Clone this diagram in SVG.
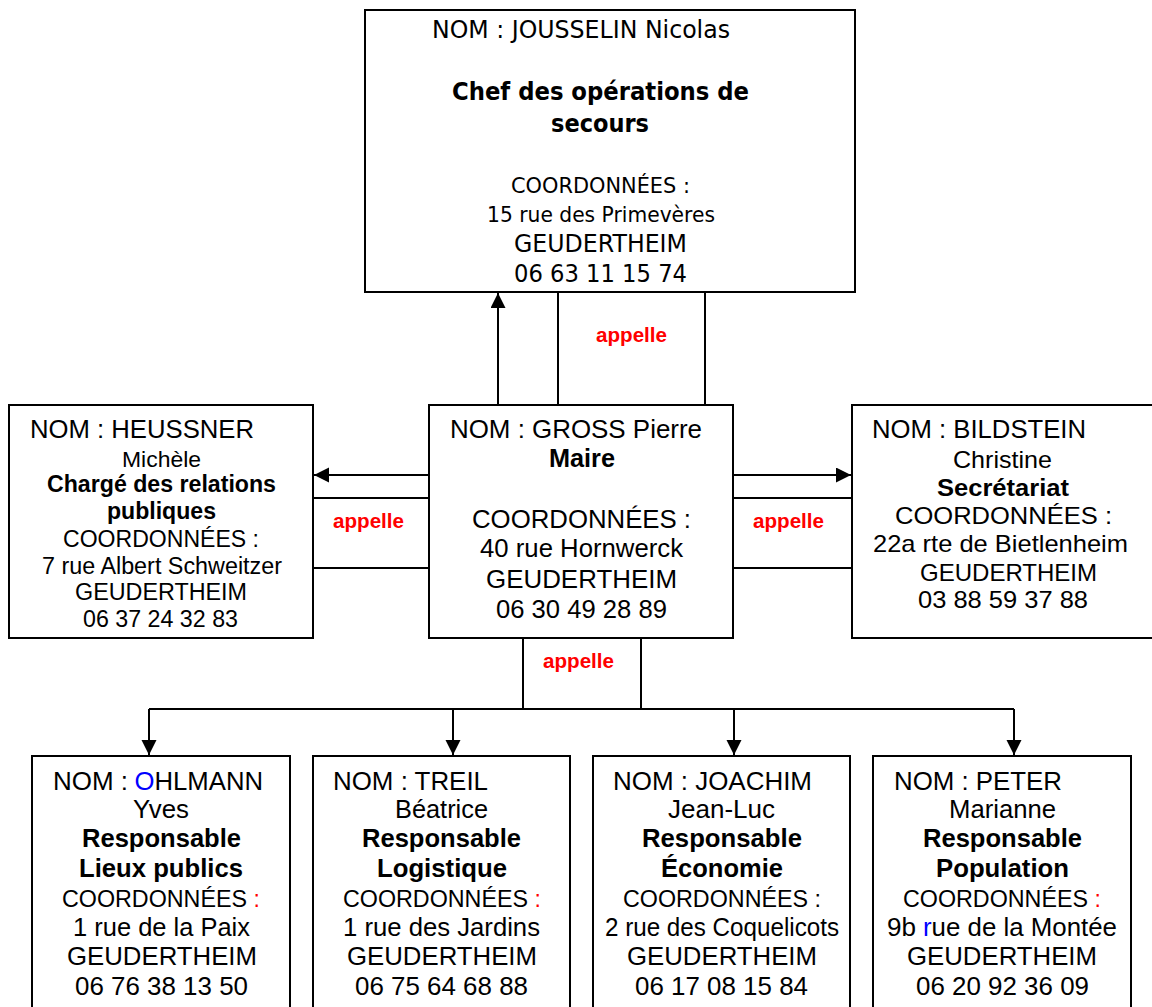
<svg xmlns="http://www.w3.org/2000/svg" width="1152" height="1007" viewBox="0 0 1152 1007">
<style>
.box{fill:#fff;stroke:#000;stroke-width:2}
.ln{fill:none;stroke:#000;stroke-width:2}
.t{font-family:"Liberation Sans",Arial,sans-serif;font-size:26px;fill:#000}
.tb{font-family:"Liberation Sans",Arial,sans-serif;font-size:26px;font-weight:bold;fill:#000}
.tt{font-family:"DejaVu Sans",Tahoma,sans-serif;font-size:24px;fill:#000}
.ttb{font-family:"DejaVu Sans",Tahoma,sans-serif;font-size:24px;font-weight:bold;fill:#000}
.lbl{font-family:"Liberation Sans",Arial,sans-serif;font-size:20px;font-weight:bold;fill:#ff0000}
.red{fill:#ff0000}
.blue{fill:#0000ff}
</style>
<defs>
<marker id="arr" markerUnits="userSpaceOnUse" markerWidth="16" markerHeight="16" refX="15" refY="7.5" orient="auto">
<path d="M0,0 L15,7.5 L0,15 z" fill="#000"/>
</marker>
</defs>

<g id="connectors">
<line class="ln" x1="498" y1="405" x2="498" y2="293" marker-end="url(#arr)"/>
<line class="ln" x1="558" y1="292" x2="558" y2="405"/>
<line class="ln" x1="705" y1="292" x2="705" y2="405"/>
<text class="lbl" x="596" y="342" textLength="71" lengthAdjust="spacingAndGlyphs">appelle</text>

<line class="ln" x1="429" y1="475" x2="314" y2="475" marker-end="url(#arr)"/>
<line class="ln" x1="313" y1="498" x2="429" y2="498"/>
<line class="ln" x1="313" y1="568" x2="429" y2="568"/>
<text class="lbl" x="333" y="528" textLength="71" lengthAdjust="spacingAndGlyphs">appelle</text>

<line class="ln" x1="733" y1="475" x2="851" y2="475" marker-end="url(#arr)"/>
<line class="ln" x1="733" y1="498" x2="852" y2="498"/>
<line class="ln" x1="733" y1="568" x2="852" y2="568"/>
<text class="lbl" x="753" y="528" textLength="71" lengthAdjust="spacingAndGlyphs">appelle</text>

<line class="ln" x1="523" y1="638" x2="523" y2="709"/>
<line class="ln" x1="641" y1="638" x2="641" y2="709"/>
<text class="lbl" x="543" y="668" textLength="71" lengthAdjust="spacingAndGlyphs">appelle</text>
<line class="ln" x1="149" y1="709" x2="1014" y2="709"/>
<line class="ln" x1="149" y1="709" x2="149" y2="755" marker-end="url(#arr)"/>
<line class="ln" x1="453" y1="709" x2="453" y2="755" marker-end="url(#arr)"/>
<line class="ln" x1="734" y1="709" x2="734" y2="755" marker-end="url(#arr)"/>
<line class="ln" x1="1014" y1="709" x2="1014" y2="755" marker-end="url(#arr)"/>
</g>

<g id="node-jousselin">
<rect class="box" x="365" y="10" width="490" height="282"/>
<text class="tt" x="432" y="38" textLength="298" lengthAdjust="spacingAndGlyphs">NOM : JOUSSELIN Nicolas</text>
<text class="ttb" x="452" y="100" textLength="297" lengthAdjust="spacingAndGlyphs">Chef des opérations de</text>
<text class="ttb" x="551" y="132" textLength="98" lengthAdjust="spacingAndGlyphs">secours</text>
<text class="tt" x="511" y="193" style="font-size:21px" textLength="179" lengthAdjust="spacingAndGlyphs">COORDONNÉES :</text>
<text class="tt" x="487" y="222" style="font-size:21px" textLength="228" lengthAdjust="spacingAndGlyphs">15 rue des Primevères</text>
<text class="tt" x="514" y="252" style="font-size:24px" textLength="173" lengthAdjust="spacingAndGlyphs">GEUDERTHEIM</text>
<text class="tt" x="514" y="282" style="font-size:24px" textLength="173" lengthAdjust="spacingAndGlyphs">06 63 11 15 74</text>
</g>

<g id="node-gross">
<rect class="box" x="429" y="405" width="304" height="233"/>
<text class="t" x="450" y="438" textLength="252" lengthAdjust="spacingAndGlyphs">NOM : GROSS Pierre</text>
<text class="tb" x="549" y="467" textLength="66" lengthAdjust="spacingAndGlyphs">Maire</text>
<text class="t" x="472" y="528" textLength="219" lengthAdjust="spacingAndGlyphs">COORDONNÉES :</text>
<text class="t" x="480" y="557" textLength="203" lengthAdjust="spacingAndGlyphs">40 rue Hornwerck</text>
<text class="t" x="486" y="588" textLength="191" lengthAdjust="spacingAndGlyphs">GEUDERTHEIM</text>
<text class="t" x="496" y="618" textLength="171" lengthAdjust="spacingAndGlyphs">06 30 49 28 89</text>
</g>

<g id="node-heussner">
<rect class="box" x="9" y="405" width="304" height="233"/>
<text class="t" x="30" y="438" textLength="224" lengthAdjust="spacingAndGlyphs">NOM : HEUSSNER</text>
<text class="t" x="122" y="467" style="font-size:22px" textLength="79" lengthAdjust="spacingAndGlyphs">Michèle</text>
<text class="tb" x="47" y="492" style="font-size:23px" textLength="229" lengthAdjust="spacingAndGlyphs">Chargé des relations</text>
<text class="tb" x="107" y="519" style="font-size:23px" textLength="109" lengthAdjust="spacingAndGlyphs">publiques</text>
<text class="t" x="63" y="547" style="font-size:23px" textLength="196" lengthAdjust="spacingAndGlyphs">COORDONNÉES :</text>
<text class="t" x="42" y="574" style="font-size:23px" textLength="240" lengthAdjust="spacingAndGlyphs">7 rue Albert Schweitzer</text>
<text class="t" x="75" y="600" style="font-size:23px" textLength="172" lengthAdjust="spacingAndGlyphs">GEUDERTHEIM</text>
<text class="t" x="83" y="627" style="font-size:23px" textLength="155" lengthAdjust="spacingAndGlyphs">06 37 24 32 83</text>
</g>

<g id="node-bildstein">
<rect class="box" x="852" y="405" width="310" height="233"/>
<text class="t" x="872" y="438" textLength="214" lengthAdjust="spacingAndGlyphs">NOM : BILDSTEIN</text>
<text class="t" x="953" y="468" style="font-size:24px" textLength="99" lengthAdjust="spacingAndGlyphs">Christine</text>
<text class="tb" x="937" y="496" style="font-size:24px" textLength="132" lengthAdjust="spacingAndGlyphs">Secrétariat</text>
<text class="t" x="895" y="524" style="font-size:24px" textLength="217" lengthAdjust="spacingAndGlyphs">COORDONNÉES :</text>
<text class="t" x="873" y="552" style="font-size:24px" textLength="255" lengthAdjust="spacingAndGlyphs">22a rte de Bietlenheim</text>
<text class="t" x="920" y="581" style="font-size:24px" textLength="177" lengthAdjust="spacingAndGlyphs">GEUDERTHEIM</text>
<text class="t" x="918" y="608" style="font-size:24px" textLength="170" lengthAdjust="spacingAndGlyphs">03 88 59 37 88</text>
</g>

<g id="node-ohlmann">
<rect class="box" x="32" y="756" width="258" height="270"/>
<text class="t" x="53" y="790" textLength="75" lengthAdjust="spacingAndGlyphs">NOM :</text>
<text class="t blue" x="134.5" y="790" textLength="20" lengthAdjust="spacingAndGlyphs">O</text>
<text class="t" x="154.5" y="790" textLength="108.5" lengthAdjust="spacingAndGlyphs">HLMANN</text>
<text class="t" x="133" y="818" textLength="56" lengthAdjust="spacingAndGlyphs">Yves</text>
<text class="tb" x="82" y="847" textLength="159" lengthAdjust="spacingAndGlyphs">Responsable</text>
<text class="tb" x="79" y="877" textLength="164" lengthAdjust="spacingAndGlyphs">Lieux publics</text>
<text class="t" x="62" y="907" style="font-size:23px" textLength="185" lengthAdjust="spacingAndGlyphs">COORDONNÉES</text>
<text class="t red" x="253.5" y="907" style="font-size:23px">:</text>
<text class="t" x="73" y="936" textLength="177" lengthAdjust="spacingAndGlyphs">1 rue de la Paix</text>
<text class="t" x="67" y="965" textLength="190" lengthAdjust="spacingAndGlyphs">GEUDERTHEIM</text>
<text class="t" x="75" y="995" textLength="173" lengthAdjust="spacingAndGlyphs">06 76 38 13 50</text>
</g>

<g id="node-treil">
<rect class="box" x="313" y="756" width="257" height="270"/>
<text class="t" x="333" y="790" textLength="155" lengthAdjust="spacingAndGlyphs">NOM : TREIL</text>
<text class="t" x="395" y="818" textLength="93" lengthAdjust="spacingAndGlyphs">Béatrice</text>
<text class="tb" x="362" y="847" textLength="159" lengthAdjust="spacingAndGlyphs">Responsable</text>
<text class="tb" x="377" y="877" textLength="130" lengthAdjust="spacingAndGlyphs">Logistique</text>
<text class="t" x="343" y="907" style="font-size:23px" textLength="185" lengthAdjust="spacingAndGlyphs">COORDONNÉES</text>
<text class="t red" x="534.5" y="907" style="font-size:23px">:</text>
<text class="t" x="343" y="936" textLength="197" lengthAdjust="spacingAndGlyphs">1 rue des Jardins</text>
<text class="t" x="347" y="965" textLength="190" lengthAdjust="spacingAndGlyphs">GEUDERTHEIM</text>
<text class="t" x="355" y="995" textLength="173" lengthAdjust="spacingAndGlyphs">06 75 64 68 88</text>
</g>

<g id="node-joachim">
<rect class="box" x="593" y="756" width="257" height="270"/>
<text class="t" x="613" y="790" textLength="199" lengthAdjust="spacingAndGlyphs">NOM : JOACHIM</text>
<text class="t" x="668" y="818" textLength="107" lengthAdjust="spacingAndGlyphs">Jean-Luc</text>
<text class="tb" x="642" y="847" textLength="160" lengthAdjust="spacingAndGlyphs">Responsable</text>
<text class="tb" x="661" y="877" textLength="122" lengthAdjust="spacingAndGlyphs">Économie</text>
<text class="t" x="623" y="907" style="font-size:23px" textLength="198" lengthAdjust="spacingAndGlyphs">COORDONNÉES :</text>
<text class="t" x="605" y="936" textLength="234" lengthAdjust="spacingAndGlyphs">2 rue des Coquelicots</text>
<text class="t" x="627" y="965" textLength="190" lengthAdjust="spacingAndGlyphs">GEUDERTHEIM</text>
<text class="t" x="635" y="995" textLength="173" lengthAdjust="spacingAndGlyphs">06 17 08 15 84</text>
</g>

<g id="node-peter">
<rect class="box" x="873" y="756" width="258" height="270"/>
<text class="t" x="894" y="790" textLength="168" lengthAdjust="spacingAndGlyphs">NOM : PETER</text>
<text class="t" x="949" y="818" textLength="107" lengthAdjust="spacingAndGlyphs">Marianne</text>
<text class="tb" x="923" y="847" textLength="159" lengthAdjust="spacingAndGlyphs">Responsable</text>
<text class="tb" x="936" y="877" textLength="133" lengthAdjust="spacingAndGlyphs">Population</text>
<text class="t" x="903" y="907" style="font-size:23px" textLength="185" lengthAdjust="spacingAndGlyphs">COORDONNÉES</text>
<text class="t red" x="1094.5" y="907" style="font-size:23px">:</text>
<text class="t" x="887" y="936" textLength="29" lengthAdjust="spacingAndGlyphs">9b</text>
<text class="t blue" x="923" y="936" textLength="8.6" lengthAdjust="spacingAndGlyphs">r</text>
<text class="t" x="931.6" y="936" textLength="185.4" lengthAdjust="spacingAndGlyphs">ue de la Montée</text>
<text class="t" x="907" y="965" textLength="190" lengthAdjust="spacingAndGlyphs">GEUDERTHEIM</text>
<text class="t" x="916" y="995" textLength="173" lengthAdjust="spacingAndGlyphs">06 20 92 36 09</text>
</g>
</svg>
